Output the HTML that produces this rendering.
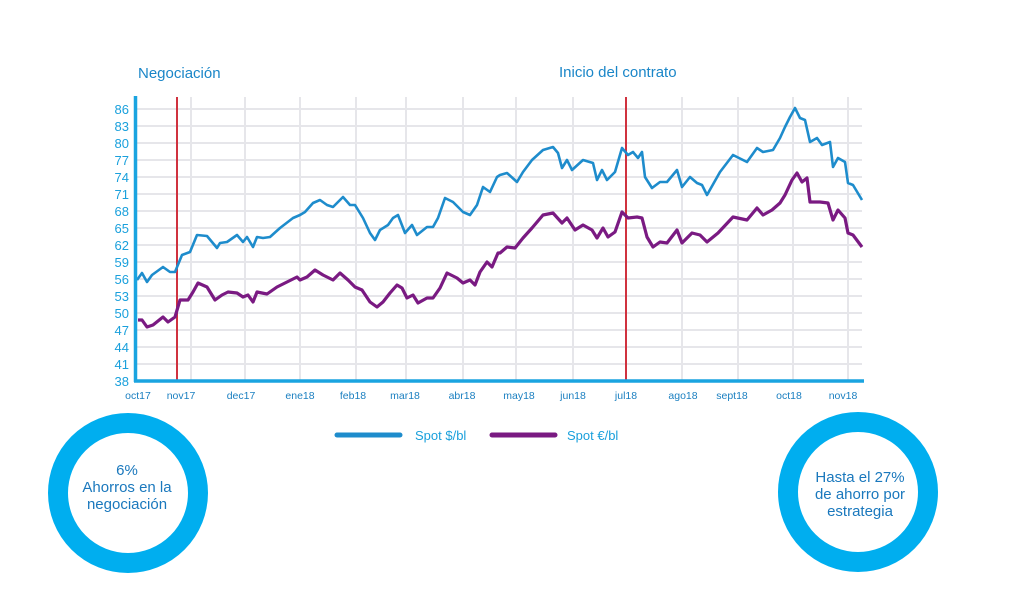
<!DOCTYPE html>
<html><head><meta charset="utf-8"><style>
body{margin:0;background:#fff;}
svg{display:block;font-family:"Liberation Sans",sans-serif;}
</style></head><body>
<svg width="1024" height="608" viewBox="0 0 1024 608">
<rect width="1024" height="608" fill="#fff"/>
<text x="138" y="78" font-size="15" fill="#1a86c8">Negociación</text>
<text x="559" y="77" font-size="15" fill="#1a86c8">Inicio del contrato</text>
<g stroke="#e6e6ea" stroke-width="2">
<line x1="136" y1="109" x2="862" y2="109"/><line x1="136" y1="126" x2="862" y2="126"/><line x1="136" y1="143" x2="862" y2="143"/><line x1="136" y1="160" x2="862" y2="160"/><line x1="136" y1="177" x2="862" y2="177"/><line x1="136" y1="194" x2="862" y2="194"/><line x1="136" y1="211" x2="862" y2="211"/><line x1="136" y1="228" x2="862" y2="228"/><line x1="136" y1="245" x2="862" y2="245"/><line x1="136" y1="262" x2="862" y2="262"/><line x1="136" y1="279" x2="862" y2="279"/><line x1="136" y1="296" x2="862" y2="296"/><line x1="136" y1="313" x2="862" y2="313"/><line x1="136" y1="330" x2="862" y2="330"/><line x1="136" y1="347" x2="862" y2="347"/><line x1="136" y1="364" x2="862" y2="364"/>
<line x1="191" y1="97" x2="191" y2="381"/><line x1="245" y1="97" x2="245" y2="381"/><line x1="300" y1="97" x2="300" y2="381"/><line x1="356" y1="97" x2="356" y2="381"/><line x1="406" y1="97" x2="406" y2="381"/><line x1="463" y1="97" x2="463" y2="381"/><line x1="516" y1="97" x2="516" y2="381"/><line x1="573" y1="97" x2="573" y2="381"/><line x1="682" y1="97" x2="682" y2="381"/><line x1="738" y1="97" x2="738" y2="381"/><line x1="793" y1="97" x2="793" y2="381"/><line x1="848" y1="97" x2="848" y2="381"/>
</g>
<line x1="177" y1="97" x2="177" y2="381" stroke="#d0323f" stroke-width="2"/>
<line x1="626" y1="97" x2="626" y2="381" stroke="#d0323f" stroke-width="2"/>
<g font-size="13" fill="#1aa0dc" text-anchor="end">
<text x="129" y="114">86</text><text x="129" y="131">83</text><text x="129" y="148">80</text><text x="129" y="165">77</text><text x="129" y="182">74</text><text x="129" y="199">71</text><text x="129" y="216">68</text><text x="129" y="233">65</text><text x="129" y="250">62</text><text x="129" y="267">59</text><text x="129" y="284">56</text><text x="129" y="301">53</text><text x="129" y="318">50</text><text x="129" y="335">47</text><text x="129" y="352">44</text><text x="129" y="369">41</text><text x="129" y="386">38</text>
</g>
<g font-size="10.5" fill="#1a7fc0" text-anchor="middle">
<text x="138" y="399">oct17</text><text x="181" y="399">nov17</text><text x="241" y="399">dec17</text><text x="300" y="399">ene18</text><text x="353" y="399">feb18</text><text x="405" y="399">mar18</text><text x="462" y="399">abr18</text><text x="519" y="399">may18</text><text x="573" y="399">jun18</text><text x="626" y="399">jul18</text><text x="683" y="399">ago18</text><text x="732" y="399">sept18</text><text x="789" y="399">oct18</text><text x="843" y="399">nov18</text>
</g>
<polyline fill="none" stroke="#1e8ccc" stroke-width="2.6" stroke-linejoin="round" points="137,280 142,273 147,282 152,275 163,267 170,272 175,272 182,255 190,252 197,235 207,236 217,248 220,243 227,242 237,235 243,242 247,237 253,247 257,237 263,238 270,237 280,228 293,218 300,215 305,212 313,203 320,200 327,205 333,207 343,197 350,205 355,205 363,218 370,233 375,240 380,230 388,225 393,218 398,215 405,233 412,225 417,235 427,227 433,227 438,218 445,198 453,202 463,212 470,215 477,205 483,187 490,192 497,177 500,175 507,173 517,182 523,172 532,160 543,150 553,147 558,153 562,168 567,160 572,170 583,160 593,163 597,180 602,170 607,180 615,172 622,148 628,155 633,152 638,158 642,152 645,177 652,188 660,182 667,182 677,170 682,187 690,177 697,183 702,185 707,195 720,172 733,155 747,162 757,148 763,152 773,150 780,138 785,127 790,117 795,108 800,118 805,120 810,142 817,138 822,145 830,142 833,167 838,158 845,162 848,183 853,185 862,200"/>
<polyline fill="none" stroke="#7a1a82" stroke-width="3.2" stroke-linejoin="round" points="138,320 142,320 147,327 153,325 163,317 168,322 175,317 180,300 188,300 193,292 198,283 207,287 215,300 222,295 228,292 237,293 243,297 248,295 253,302 257,292 267,294 277,287 287,282 297,277 300,280 307,277 315,270 323,275 333,280 340,273 348,280 355,287 362,290 370,302 377,307 383,302 390,293 397,285 402,288 407,298 413,295 418,303 427,298 433,298 440,288 447,273 457,278 463,283 470,280 475,285 480,272 487,262 492,267 498,253 500,253 507,247 515,248 523,238 532,228 543,215 553,213 562,223 567,218 575,230 583,225 592,230 597,238 603,228 608,237 615,232 622,212 628,218 637,217 642,218 647,237 653,247 660,242 667,243 677,230 682,243 692,233 700,235 707,242 718,233 733,217 747,220 757,208 763,215 772,210 780,203 785,195 792,180 797,173 802,182 807,178 810,202 820,202 828,203 833,220 838,210 845,218 848,233 853,235 862,247"/>
<line x1="135.5" y1="96" x2="135.5" y2="382" stroke="#1aa4e0" stroke-width="3.5"/>
<line x1="134" y1="381" x2="864" y2="381" stroke="#1aa4e0" stroke-width="3.5"/>
<line x1="337" y1="435" x2="400" y2="435" stroke="#1e8ccc" stroke-width="5" stroke-linecap="round"/>
<text x="415" y="440" font-size="13" fill="#1aa0dc">Spot $/bl</text>
<line x1="492" y1="435" x2="555" y2="435" stroke="#7a1a82" stroke-width="5" stroke-linecap="round"/>
<text x="567" y="440" font-size="13" fill="#1aa0dc">Spot €/bl</text>
<circle cx="128" cy="493" r="70" fill="none" stroke="#00aeef" stroke-width="20"/>
<circle cx="858" cy="492" r="70" fill="none" stroke="#00aeef" stroke-width="20"/>
<g font-size="15" fill="#1a78bd" text-anchor="middle">
<text x="127" y="475">6%</text><text x="127" y="492">Ahorros en la</text><text x="127" y="509">negociación</text>
<text x="860" y="482">Hasta el 27%</text><text x="860" y="499">de ahorro por</text><text x="860" y="516">estrategia</text>
</g>
</svg>
</body></html>
